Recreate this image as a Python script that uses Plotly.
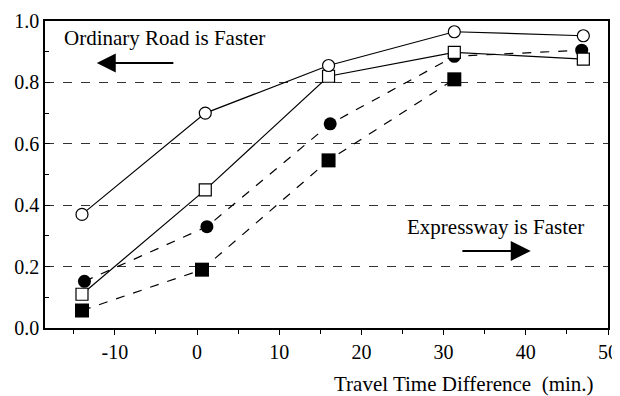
import plotly.graph_objects as go

# Data
x_open_circle = [-14, 1, 16, 31.3, 47]
y_open_circle = [0.37, 0.70, 0.855, 0.965, 0.952]

x_open_square = [-14, 1, 16, 31.3, 47]
y_open_square = [0.11, 0.45, 0.82, 0.898, 0.876]

x_filled_circle = [-13.7, 1.2, 16.2, 31.3, 46.8]
y_filled_circle = [0.152, 0.33, 0.665, 0.885, 0.905]

x_filled_square = [-14, 0.6, 16, 31.3]
y_filled_square = [0.057, 0.19, 0.546, 0.81]

x_ticks = [-10, 0, 10, 20, 30, 40, 50]
x_tick_text = ["-10", "0", "10", "20", "30", "40", "50"]
y_ticks = [0.0, 0.2, 0.4, 0.6, 0.8, 1.0]
y_tick_text = ["0.0", "0.2", "0.4", "0.6", "0.8", "1.0"]

FONT = "Liberation Serif"

fig = go.Figure()

fig.add_trace(go.Scatter(x=x_filled_square, y=y_filled_square, mode="lines+markers",
                         line=dict(color="black", width=1.2, dash="dash"),
                         marker=dict(symbol="square", size=14, color="black")))
fig.add_trace(go.Scatter(x=x_filled_circle, y=y_filled_circle, mode="lines+markers",
                         line=dict(color="black", width=1.2, dash="dash"),
                         marker=dict(symbol="circle", size=13, color="black")))
fig.add_trace(go.Scatter(x=x_open_square, y=y_open_square, mode="lines+markers",
                         line=dict(color="black", width=1.2),
                         marker=dict(symbol="square", size=12, color="white",
                                     line=dict(color="black", width=1.2))))
fig.add_trace(go.Scatter(x=x_open_circle, y=y_open_circle, mode="lines+markers",
                         line=dict(color="black", width=1.2),
                         marker=dict(symbol="circle", size=12, color="white",
                                     line=dict(color="black", width=1.2))))

fig.add_annotation(x=-4.0, y=0.945, text="Ordinary Road is Faster", showarrow=False,
                   xanchor="center", yanchor="middle",
                   font=dict(family=FONT, size=21, color="black"))
fig.add_annotation(x=-12.2, y=0.863, ax=-2.7, ay=0.863, axref="x", ayref="y",
                   text="", showarrow=True, arrowhead=2, arrowsize=1.9, arrowwidth=2,
                   arrowcolor="black")
fig.add_annotation(x=36.3, y=0.329, text="Expressway is Faster", showarrow=False,
                   xanchor="center", yanchor="middle",
                   font=dict(family=FONT, size=21, color="black"))
fig.add_annotation(x=40.6, y=0.251, ax=32.1, ay=0.251, axref="x", ayref="y",
                   text="", showarrow=True, arrowhead=2, arrowsize=2.0, arrowwidth=2,
                   arrowcolor="black")
fig.add_annotation(x=0.744, y=-0.182, xref="paper", yref="paper",
                   xanchor="center", yanchor="middle",
                   text="Travel Time Difference  (min.)", showarrow=False,
                   font=dict(family=FONT, size=21, color="black"))

# The page body adds an 8px offset, so the figure is sized 612x388
fig.update_layout(
    width=612, height=388,
    margin=dict(l=37, r=12, t=13, b=68, autoexpand=False),
    paper_bgcolor="white", plot_bgcolor="white",
    showlegend=False,
    font=dict(family=FONT, size=20, color="black"),
    xaxis=dict(range=[-18.5, 50], tickvals=x_ticks, ticktext=x_tick_text,
               automargin=False, ticklabeloverflow="allow",
               ticks="outside", ticklen=5, tickfont=dict(family=FONT, size=20),
               tickcolor="black", showgrid=False, zeroline=False,
               showline=True, linecolor="black", linewidth=1.5, mirror=True,
               minor=dict(dtick=5, ticks="outside", ticklen=4, tickcolor="black"),
               ),
    yaxis=dict(range=[0, 1], tickvals=y_ticks, ticktext=y_tick_text,
               automargin=False, ticklabeloverflow="allow",
               ticks="inside", ticklen=5, tickcolor="black",
               tickfont=dict(family=FONT, size=20),
               showgrid=True, gridcolor="#333", griddash="dash", gridwidth=0.8,
               zeroline=False, showline=True, linecolor="black", linewidth=1.5,
               mirror=True,
               minor=dict(dtick=0.1, ticks="inside", ticklen=4, tickcolor="black",
                          showgrid=False)),
)

fig.write_html("out.html")
